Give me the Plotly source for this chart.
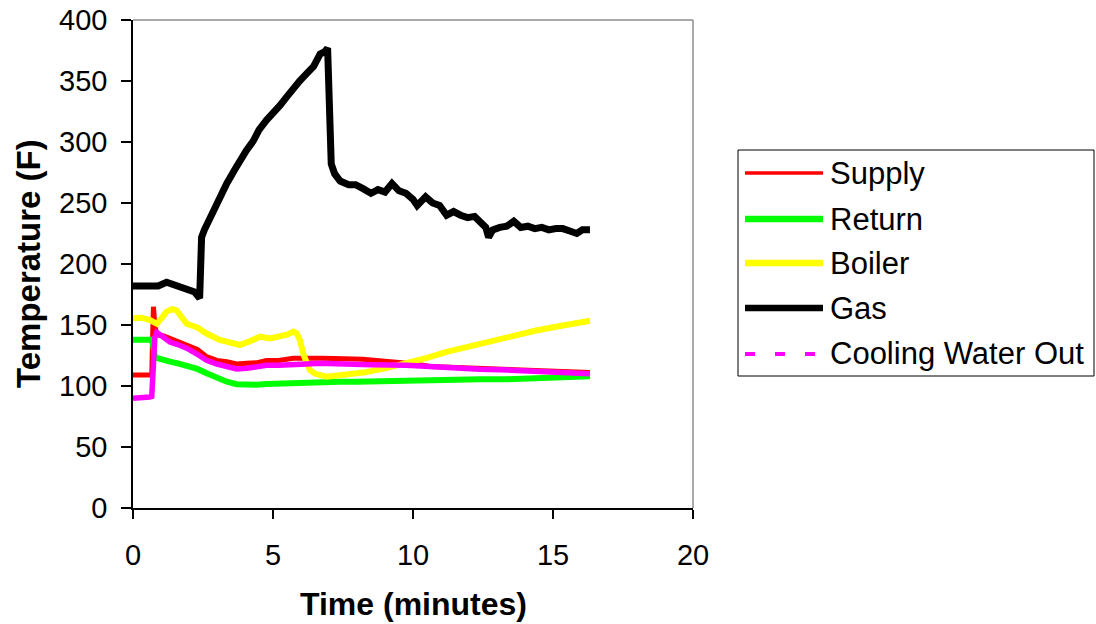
import plotly.graph_objects as go

# ---------------- data ----------------
supply_x = [0, 0.4, 0.67, 0.70, 0.73, 0.78, 0.85, 1.1, 1.32, 1.6, 1.92, 2.3, 2.63, 3.0, 3.35, 3.7,
            4.06, 4.4, 4.77, 5.2, 5.73, 6.2, 6.68, 7.2, 7.63, 8.2, 8.7, 9.18, 9.7, 10.1, 10.6, 11.2,
            11.8, 12.4, 13.0, 13.6, 14.2, 14.78, 15.4, 15.9, 16.32]
supply_y = [109, 109, 109, 140, 165, 150, 142, 141, 139, 137, 134, 130, 124, 121, 120, 118,
            118.6, 119, 121, 121, 122.7, 123, 122.7, 122.5, 122.7, 122, 121, 120, 119, 118, 116, 115.5,
            115, 114.5, 114, 113.5, 113, 112.5, 112, 111, 111]

return_x = [0, 0.3, 0.67, 0.73, 0.78, 0.85, 1.1, 1.32, 1.6, 1.92, 2.3, 2.63, 3.0, 3.35, 3.7, 4.06,
            4.4, 4.77, 5.2, 5.73, 6.2, 6.68, 7.39, 8.0, 8.82, 9.8, 10.6, 11.5, 12.4, 13.3, 14.2,
            15.0, 15.7, 16.32]
return_y = [138, 138, 138, 132, 124, 123, 121, 120, 118.5, 117, 114, 110.4, 106.5, 103.5, 101.5, 100.8,
            101, 101.6, 102, 102.7, 103, 103.3, 103.5, 103.5, 104, 104, 104, 104.5, 105.5, 105.5, 106,
            106.5, 107, 108]

boiler_x = [0, 0.3, 0.61, 0.85, 1.0, 1.2, 1.4, 1.56, 1.75, 1.92, 2.3, 2.63, 3.1, 3.5, 3.82, 4.2,
            4.54, 4.9, 5.25, 5.5, 5.73, 5.85, 5.96, 6.1, 6.32, 6.5, 6.92, 7.4, 8.23, 9.0, 9.77,
            10.5, 11.2, 12.0, 12.8, 13.58, 14.4, 15.2, 15.8, 16.32]
boiler_y = [155.5, 156, 154, 151, 155, 161, 163, 162, 156, 151, 148, 143, 137.7, 136, 133.6, 137,
            140.4, 139, 140.4, 142, 144.5, 143, 137.7, 125, 113, 110, 107.6, 108.5, 111, 114.5, 118.6,
            123, 128, 132.5, 137, 141.8, 145.5, 149, 151.5, 153.5]

gas_x = [0, 0.3, 0.6, 0.9, 1.2, 1.5, 1.8, 2.0, 2.2, 2.38, 2.45, 2.55, 2.75, 3.0, 3.2, 3.35, 3.6,
         3.82, 4.05, 4.3, 4.5, 4.77, 5.0, 5.25, 5.49, 5.7, 5.95, 6.2, 6.45, 6.68, 6.85, 6.95, 7.02,
         7.08, 7.2, 7.4, 7.7, 7.95, 8.2, 8.5, 8.75, 9.0, 9.25, 9.5, 9.75, 10.0, 10.15, 10.45, 10.7,
         10.95, 11.2, 11.45, 11.7, 11.95, 12.2, 12.45, 12.6, 12.7, 12.85, 13.1, 13.35, 13.6, 13.85,
         14.1, 14.35, 14.6, 14.85, 15.1, 15.35, 15.6, 15.85, 16.05, 16.32]
gas_y = [182, 182, 183, 182, 185, 183, 181, 179, 177, 172, 222, 228, 238, 250, 260, 266, 276,
         285, 293, 301, 310, 318, 323, 330, 337, 342, 350, 356, 362, 372, 374, 377, 300,
         282, 274, 268, 265, 265, 262, 258, 261, 259, 266, 260, 258, 253, 248, 255, 250,
         248, 240, 243, 240, 238, 239, 234, 230, 222, 228, 230, 231, 235, 230,
         231, 229, 230, 228, 229, 229, 227, 225, 228, 228]

cooling_x = [0, 0.3, 0.6, 0.67, 0.72, 0.78, 0.85, 1.1, 1.32, 1.6, 1.92, 2.3, 2.63, 3.0, 3.35, 3.7,
             4.06, 4.4, 4.77, 5.2, 5.73, 6.2, 6.68, 7.2, 7.63, 8.5, 9.77, 10.5, 11.2, 12.4, 13.5,
             14.5, 15.5, 16.32]
cooling_y = [90, 90, 91, 91.5, 120, 140, 144, 140, 136, 134, 131, 126, 121, 118, 115.8, 114,
             114.5, 116, 117, 117, 117, 118, 118.6, 118, 118, 117.5, 117, 116, 115, 113.7, 113,
             112, 111, 110]

series_names = ["Supply", "Return", "Boiler", "Gas", "Cooling Water Out"]
x_ticks = [0, 5, 10, 15, 20]
y_ticks = [0, 50, 100, 150, 200, 250, 300, 350, 400]

# ---------------- styling ----------------
colors = ["#FF0000", "#00FF00", "#FFFF00", "#000000", "#FF00FF"]
widths = [5, 6, 6, 7, 5.5]
legend_widths = [3.5, 6.5, 6.5, 6.5, 4]
FONT = "Liberation Sans, Arial, sans-serif"

W, H = 1096, 624
# plot area in pixels
L, R, T, B = 133, 693, 20, 508

fig = go.Figure()
data = [(supply_x, supply_y), (return_x, return_y), (boiler_x, boiler_y),
        (gas_x, gas_y), (cooling_x, cooling_y)]
for (xs, ys), name, c, w in zip(data, series_names, colors, widths):
    fig.add_trace(go.Scatter(x=xs, y=ys, mode="lines", name=name,
                             line=dict(color=c, width=w), showlegend=False))


def px2paper_x(px):
    return (px - L) / (R - L)


def px2paper_y(py):
    return (B - py) / (B - T)


shapes = []
annotations = []
# top and right gray frame
shapes.append(dict(type="line", xref="paper", yref="paper", x0=0, x1=1, y0=1, y1=1,
                   line=dict(color="#8c8c8c", width=1.5)))
shapes.append(dict(type="line", xref="paper", yref="paper", x0=1, x1=1, y0=0, y1=1,
                   line=dict(color="#8c8c8c", width=1.5)))
# legend box
shapes.append(dict(type="rect", xref="paper", yref="paper",
                   x0=px2paper_x(738), x1=px2paper_x(1094), y0=px2paper_y(376), y1=px2paper_y(150),
                   line=dict(color="#000000", width=1), fillcolor="white", layer="below"))
rows = [173, 219, 263, 308, 354]
for i, (name, c, lw, ry) in enumerate(zip(series_names, colors, legend_widths, rows)):
    if i == 4:
        shapes.append(dict(type="line", xref="paper", yref="paper",
                           x0=px2paper_x(745), x1=px2paper_x(815), y0=px2paper_y(ry), y1=px2paper_y(ry),
                           line=dict(color=c, width=lw, dash="10px,20px")))
    else:
        shapes.append(dict(type="line", xref="paper", yref="paper",
                           x0=px2paper_x(745), x1=px2paper_x(823), y0=px2paper_y(ry), y1=px2paper_y(ry),
                           line=dict(color=c, width=lw)))
    annotations.append(dict(text=name, xref="paper", yref="paper", x=px2paper_x(828),
                            y=px2paper_y(ry), xanchor="left", yanchor="middle", showarrow=False,
                            font=dict(family=FONT, size=31, color="black")))

# axis titles
annotations.append(dict(text="<b>Time (minutes)</b>", xref="paper", yref="paper",
                        x=0.5, y=px2paper_y(604), xanchor="center", yanchor="middle",
                        showarrow=False, font=dict(family=FONT, size=32, color="black")))
annotations.append(dict(text="<b>Temperature (F)</b>", xref="paper", yref="paper",
                        x=px2paper_x(28), y=0.5, xanchor="center", yanchor="middle",
                        textangle=-90, showarrow=False,
                        font=dict(family=FONT, size=33, color="black")))

fig.update_layout(
    width=W, height=H,
    margin=dict(l=L, r=W - R, t=T, b=H - B, pad=0, autoexpand=False),
    paper_bgcolor="white", plot_bgcolor="white",
    showlegend=False,
    shapes=shapes, annotations=annotations,
    font=dict(family=FONT, color="black"),
)
fig.update_xaxes(range=[0, 20], tickvals=x_ticks, ticktext=[str(v) for v in x_ticks],
                 showgrid=False, zeroline=False, showline=True, linecolor="black", linewidth=1.5,
                 ticks="outside", ticklen=9, tickcolor="black", tickwidth=1.5,
                 tickfont=dict(family=FONT, size=29, color="black"), ticklabelstandoff=11,
                 ticklabeloverflow="allow", automargin=False)
fig.update_yaxes(range=[0, 400], tickvals=y_ticks, ticktext=[str(v) for v in y_ticks],
                 showgrid=False, zeroline=False, showline=True, linecolor="black", linewidth=1.5,
                 ticks="outside", ticklen=10, tickcolor="black", tickwidth=1.5,
                 tickfont=dict(family=FONT, size=29, color="black"), ticklabelstandoff=8,
                 ticklabeloverflow="allow", automargin=False)

fig.write_html("out.html", config={"displayModeBar": False},
               post_script="document.body.style.margin='0';document.body.style.overflow='hidden';")
